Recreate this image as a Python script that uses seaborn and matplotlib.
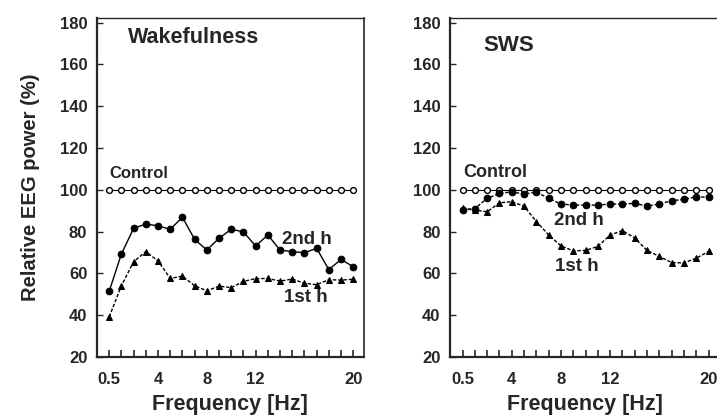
import matplotlib
matplotlib.use('Agg')
import matplotlib.pyplot as plt
import numpy as np
import seaborn as sns

# frequency bins (Hz), plotted at equal spacing
freq_bins = [0.5, 1, 2, 3, 4, 5, 6, 7, 8, 9, 10, 11, 12, 13, 14, 15, 16, 17, 18, 19, 20]
freq_tick_labels = ['0.5', '4', '8', '12', '20']

# Wakefulness panel (% of control)
wake_control = [100] * 21
wake_2nd_h = [51.5, 69.3, 81.6, 83.6, 82.8, 81.1, 86.9, 76.3, 71.2, 76.8, 81.1,
              79.9, 73.1, 78.4, 71.2, 70.4, 69.9, 72.0, 61.8, 66.7, 63.2]
wake_1st_h = [39.2, 54.1, 65.6, 70.4, 66.0, 57.6, 58.7, 54.1, 51.7, 53.9, 53.2,
              56.2, 57.5, 57.6, 56.3, 57.3, 55.3, 54.6, 57.0, 56.8, 57.2]

# SWS panel (% of control)
sws_control = [100] * 21
sws_2nd_h = [90.5, 91.0, 95.9, 98.3, 99.0, 98.0, 99.0, 95.9, 93.2, 92.7, 92.7,
             92.7, 93.2, 93.2, 93.5, 92.2, 93.2, 94.8, 95.4, 96.7, 96.4]
sws_1st_h = [91.1, 90.3, 89.5, 93.8, 94.3, 92.2, 84.8, 78.4, 73.2, 70.8, 71.0,
             72.9, 78.4, 80.5, 76.9, 71.0, 68.1, 65.2, 65.0, 67.3, 70.5]

sns.set_style('ticks')
plt.rcParams['font.family'] = ['Liberation Sans', 'DejaVu Sans']
plt.rcParams['font.weight'] = 'bold'

pos = np.arange(len(freq_bins))
tick_pos = [freq_bins.index(float(t)) for t in freq_tick_labels]
dotted = (0, (2.5, 1.3))

fig = plt.figure(figsize=(7.17, 4.17), dpi=100)
ax_w = fig.add_axes([0.1353, 0.1439, 0.3718, 0.8118])
ax_s = fig.add_axes([0.6279, 0.1439, 0.375, 0.8118])


def draw_panel(ax, control, h2, h1, h2_ls):
    sns.lineplot(x=pos, y=control, ax=ax, color='black', lw=0.8, marker='o',
                 markersize=4.2, markerfacecolor='white', markeredgecolor='black',
                 markeredgewidth=1.0)
    sns.lineplot(x=pos, y=h2, ax=ax, color='black', lw=1.0, ls=h2_ls, marker='o',
                 markersize=4.8, markerfacecolor='black', markeredgecolor='black')
    sns.lineplot(x=pos, y=h1, ax=ax, color='black', lw=1.0, ls=dotted, marker='^',
                 markersize=5, markerfacecolor='black', markeredgecolor='black')

    ax.set_xlim(-1, 20.85)
    ax.set_ylim(20, 182)
    ax.set_yticks(range(20, 181, 20))
    ax.set_xticks(tick_pos)
    ax.set_xticklabels(freq_tick_labels)
    ax.set_xticks(pos, minor=True)
    ax.tick_params(axis='x', which='both', direction='in', length=5, width=1.2)
    ax.tick_params(axis='x', which='major', pad=10.5, labelsize=12)
    ax.tick_params(axis='y', direction='in', length=4, width=1.0, pad=7, labelsize=12)
    for lab in ax.get_xticklabels() + ax.get_yticklabels():
        lab.set_fontweight('bold')

    ax.spines['left'].set_linewidth(1.6)
    ax.spines['bottom'].set_linewidth(1.6)
    ax.spines['top'].set_linewidth(1.0)
    ax.spines['right'].set_linewidth(1.2)

    ax.set_xlabel('Frequency [Hz]', fontsize=15.5, fontweight='bold', labelpad=5)


draw_panel(ax_w, wake_control, wake_2nd_h, wake_1st_h, '-')
draw_panel(ax_s, sws_control, sws_2nd_h, sws_1st_h, dotted)

ax_w.set_ylabel('Relative EEG power (%)', fontsize=14.5, fontweight='bold', labelpad=14)

ax_w.text(1.5, 170.3, 'Wakefulness', fontsize=15.5, fontweight='bold')
ax_w.text(0, 105.7, 'Control', fontsize=12, fontweight='bold')
ax_w.text(14.2, 74.1, '2nd h', fontsize=13.5, fontweight='bold')
ax_w.text(14.3, 46.4, '1st h', fontsize=13.5, fontweight='bold')

ax_s.text(1.7, 166.5, 'SWS', fontsize=16, fontweight='bold')
ax_s.text(0.05, 106.2, 'Control', fontsize=13, fontweight='bold')
ax_s.text(7.4, 83.2, '2nd h', fontsize=13.5, fontweight='bold')
ax_s.text(7.5, 61, '1st h', fontsize=13.5, fontweight='bold')

fig.savefig('out.png', dpi=100)
